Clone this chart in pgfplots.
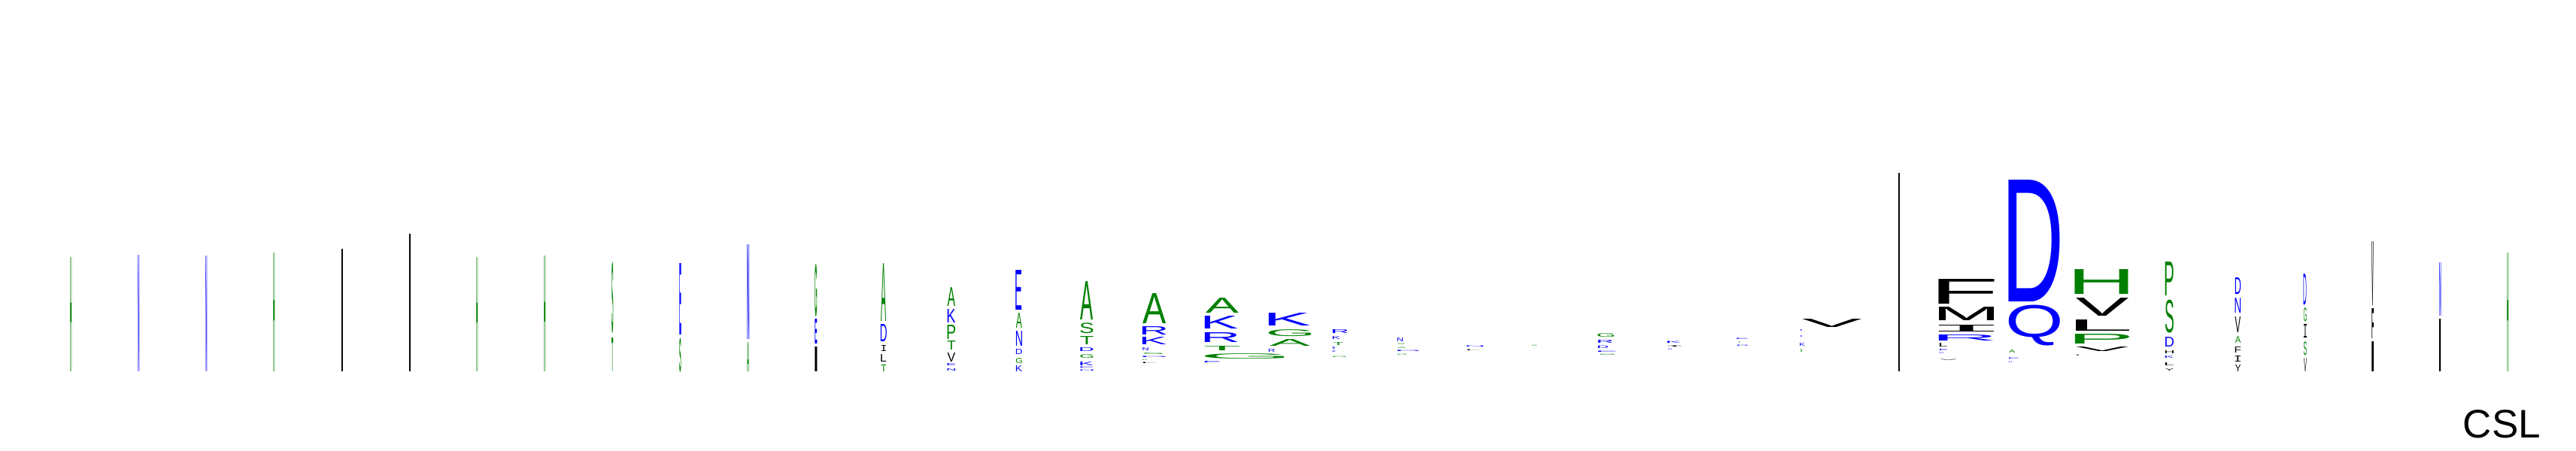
\documentclass[border=0pt]{standalone}
\usepackage{fontspec}
\setmainfont{Liberation Sans}
\newfontfamily\logofont{Liberation Sans}
\newfontfamily\logobold{Liberation Sans Bold}
\newfontfamily\monoI{DejaVu Sans Mono}
\usepackage{graphicx}
\usepackage{pgfplots}
\usepackage{pgfplotstable}
\pgfplotsset{compat=1.18}
\definecolor{lgreen}{RGB}{0,128,0}
\definecolor{lblue}{RGB}{0,0,255}
\newdimen\myu \myu=0.2pt
\newcount\gnum
\newdimen\lsb \newdimen\rsb
\newif\ifthin
\def\letI{I}
\protected\def\inkbox{\ifthin\logobold\else\ifx\tmpl\letI\monoI\else\logofont\fi\fi
  \gnum=\XeTeXcharglyph\expandafter`\tmpl\relax
  \lsb=\XeTeXglyphbounds 1 \gnum
  \rsb=\XeTeXglyphbounds 3 \gnum
  \kern-\lsb\tmpl\kern-\rsb}
\protected\def\LG#1#2#3{\def\tmpl{#1}%
  \ifdim#2pt<4pt \thintrue\else\thinfalse\fi
  \resizebox*{#2\myu}{#3\myu}{\inkbox}}

% x = centre (px), y = bottom above baseline, w = width, h = height, l = letter
\pgfplotstableread{
x y w h l
95 0 2 152 H
365 0 2 158 H
635 0 2 152 H
725 0 2 154 H
815 51 2.2 95 S
815 0 2.2 45 T
905 0 2.4 45 S
995 0 2.8 39 A
1085 74 3 70 G
1175 67 7 77 A
1175 0 7 9 T
1265 87 10.5 25 A
1265 43 10.5 19 P
1265 29 10.5 12 T
1355 58 8 20 A
1355 11 8 7 G
1445 69 17 51 A
1445 51 17 14 S
1445 36 17 11 T
1445 18 17 5 G
1535 64 31 40 A
1533 22 27 2 S
1522 14 6 1.5 G
1625 78 44 20 A
1625 28 46 6 T
1654.5 17 105 7 G
1715 47 56 9 G
1715 34 54 9 A
1779.5 35 13 4 T
1781 18 18 1.5 G
1863 35 10 1.5 S
1864 30 12 1.5 A
1864 21 12 1.5 G
2040 33 6 1.5 G
2135 46 22 5 G
2136.5 21 21 1.5 S
2312.5 37 5 1.5 T
2395 26 2.2 4 G
2675 25 8 4 A
2794.5 103 71 33 H
2795 37 72 13 P
2884.5 101 11 45 P
2884.5 52 11 44 S
2975.5 38 7.5 9 A
3065 67 4 18 G
3065 22 4 18 S
3335 0 2 158 H
}\greentab

\pgfplotstableread{
x y w h l
185 0 2 155 N
275 0 2 154 N
905 49 2.4 95 E
995 43 2.8 126 N
1085 37 3 33 E
1175 40 8 23 D
1265 65 10.5 18 K
1265 7 10.5 3 E
1265 0 10.5 3 N
1355 82 8 53 E
1355 34 8 20 N
1355 23 8 7 D
1355 0 8 8 K
1445 27 17 5 D
1445 8 17 5 K
1445 4 17 1.5 E
1445 0 17 1.5 N
1535 49 32 11 R
1535 36 32 10 K
1523 28 7.3 4 N
1535 18 31 1.5 D
1624 57 44 17 K
1624 39 44 13 R
1612 11 20 2 E
1714.5 61 55 17 K
1691 26 8 4 R
1782 51 20 5 R
1777 43 10 4 K
1773.5 29 3 3 D
1774 25 4 2 E
1861.5 40 7 5 N
1872.5 26 29 1.5 D
1961 32 22 1.5 N
2134.5 38 19 4 R
2131.5 31 13 3.5 D
2137 25 24 1.5 E
2226 37.5 18 2.5 K
2220.5 28 5 1.5 D
2316.5 42 15 1.5 E
2317 33 14 1.5 D
2395 53 2.2 2 E
2395 45 2.2 2 D
2396.5 34 7 4 K
2614.5 41 73 8 R
2584 27 10 2 E
2581.5 23 5 1.5 D
2705 93 68 162 D
2705 35 68 54 Q
2677.5 16 13 1.5 E
2673 11 4 1.5 N
2884.5 33 11 13 D
2884.5 17 11 3 K
2975.5 103 7.5 22 D
2975.5 78 7.5 20 N
3065 89 4 41 D
3245 74 2.2 71 N
}\bluetab

\pgfplotstableread{
x y w h l
455 0 2 163 I
545 0 2 183 I
1085 0 3 33 I
1175 27 6 8 I
1175 13 7 10 L
1265 13 10.5 12 V
1528 10 16.7 1.5 L
1959 27 16 1.5 L
2226.5 32 19 1.5 I
2435.5 59 79 11 V
2525 0 2 264 I
2615 90 74 33 F
2614.5 68 73 18 M
2614.5 53 73 9 I
2584 33 10 5 L
2590.5 14 23 1.5 V
2795 74 70 24 V
2795.5 54 71 15 L
2795 27 70 6 V
2762.5 20 5 1.5 I
2884.5 24 11 4 H
2884.5 8 11 4 L
2884.5 0 11 3 Y
2975.5 52 7.5 21 V
2975.5 25 7.5 8 F
2975.5 13 7.5 8 I
2975.5 0 7.5 9 Y
3065 45 4 18 I
3065 0 4 18 V
3155 88 2.8 85 V
3155 44 2.8 40 F
3155 0 2.8 40 I
3245 0 2.2 70 I
}\blacktab

% one stretched letter per table row, placed through the axis coordinates
\newcommand\drawtab[2]{%
  \pgfplotstablegetrowsof{#1}%
  \pgfmathtruncatemacro\nrows{\pgfplotsretval-1}%
  \foreach \r in {0,...,\nrows}{%
    \pgfplotstablegetelem{\r}{x}\of#1\let\vx\pgfplotsretval
    \pgfplotstablegetelem{\r}{y}\of#1\let\vy\pgfplotsretval
    \pgfplotstablegetelem{\r}{w}\of#1\let\vw\pgfplotsretval
    \pgfplotstablegetelem{\r}{h}\of#1\let\vh\pgfplotsretval
    \pgfplotstablegetelem{\r}{l}\of#1\let\vl\pgfplotsretval
    \edef\temp{\noexpand\node[anchor=south, inner sep=0pt, outer sep=0pt, text=#2]
      at (axis cs:\vx,\vy) {\noexpand\LG{\vl}{\vw}{\vh}};}%
    \temp
  }%
}

\begin{document}
\begin{tikzpicture}
\begin{axis}[
  scale only axis,
  width=685pt, height=120pt,
  xmin=0, xmax=3425, ymin=-105, ymax=495,
  hide axis, clip=false,
]
\addplot[draw=none, mark=none] coordinates {(0,-105) (3425,495)};
\drawtab{\greentab}{lgreen}
\drawtab{\bluetab}{lblue}
\drawtab{\blacktab}{black}
\node[anchor=base, inner sep=0pt, font=\fontsize{10.6}{12}\selectfont] at (axis cs:3326.5,-88) {CSL};
\end{axis}
\end{tikzpicture}
\end{document}
